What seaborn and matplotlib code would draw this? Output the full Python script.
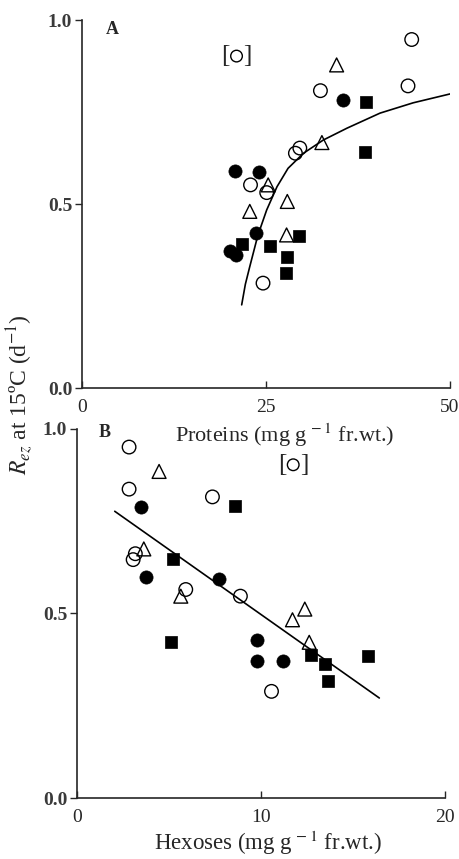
import numpy as np
import pandas as pd
import matplotlib
matplotlib.use("Agg")
import matplotlib.pyplot as plt
import seaborn as sns

sns.set_style("ticks")
plt.rcParams['font.family'] = ['Liberation Serif', 'DejaVu Serif']
plt.rcParams['mathtext.fontset'] = 'stix'

# ---- Panel A: proteins (mg g-1 fr.wt.) vs Rez ----
a_open_x = [44.8, 44.3, 32.4, 29.0, 29.6, 22.9, 25.1, 24.6]
a_open_y = [0.947, 0.821, 0.808, 0.638, 0.652, 0.552, 0.531, 0.285]
a_fcirc_x = [35.4, 20.8, 24.1, 23.7, 20.1, 20.9]
a_fcirc_y = [0.783, 0.590, 0.586, 0.421, 0.371, 0.362]
a_tri_x = [34.6, 32.6, 25.3, 27.9, 22.8, 27.8]
a_tri_y = [0.878, 0.667, 0.552, 0.507, 0.480, 0.416]
a_sq_x = [38.6, 38.5, 21.7, 25.6, 29.5, 27.8, 27.7]
a_sq_y = [0.778, 0.640, 0.391, 0.386, 0.412, 0.356, 0.312]
a_excl = (21.0, 0.902)  # bracketed point
a_curve_x = [21.7, 22.2, 22.8, 23.9, 25.1, 26.5, 28.0, 30.1, 32.8, 36.0, 40.5, 45.0, 50.4]
a_curve_y = [0.226, 0.282, 0.330, 0.415, 0.484, 0.547, 0.597, 0.638, 0.674, 0.706, 0.747, 0.775, 0.801]

# ---- Panel B: hexoses (mg g-1 fr.wt.) vs Rez ----
b_open_x = [2.83, 2.83, 7.36, 3.05, 3.17, 5.91, 8.88, 10.57]
b_open_y = [0.951, 0.837, 0.816, 0.646, 0.662, 0.565, 0.547, 0.289]
b_fcirc_x = [3.46, 3.77, 7.72, 9.79, 9.79, 11.21]
b_fcirc_y = [0.789, 0.599, 0.594, 0.427, 0.370, 0.370]
b_tri_x = [4.46, 3.63, 5.64, 12.38, 11.71, 12.62]
b_tri_y = [0.885, 0.675, 0.547, 0.512, 0.483, 0.422]
b_sq_x = [8.58, 5.19, 5.13, 12.69, 13.47, 13.65, 15.79]
b_sq_y = [0.790, 0.648, 0.422, 0.388, 0.363, 0.316, 0.386]
b_excl = (11.75, 0.903)
b_line_x = [2.05, 16.43]
b_line_y = [0.777, 0.271]

fig = plt.figure(figsize=(4.59, 8.59), dpi=100)
axA = fig.add_axes([0.1786, 0.5483, 0.8017, 0.4284])
axB = fig.add_axes([0.1678, 0.0710, 0.8017, 0.4296])


def draw_panel(ax, ox, oy, fx, fy, tx, ty, sx, sy, excl):
    sns.scatterplot(x=ox, y=oy, ax=ax, marker='o', s=95, facecolor='none',
                    edgecolor='black', linewidth=1.0, zorder=3)
    sns.scatterplot(x=fx, y=fy, ax=ax, marker='o', s=90, color='black',
                    edgecolor='black', linewidth=0.5, zorder=3)
    sns.scatterplot(x=tx, y=ty, ax=ax, marker='^', s=100, facecolor='none',
                    edgecolor='black', linewidth=1.0, zorder=3)
    sns.scatterplot(x=sx, y=sy, ax=ax, marker='s', s=80, color='black',
                    edgecolor='black', linewidth=0.5, zorder=3)
    sns.scatterplot(x=[excl[0]], y=[excl[1]], ax=ax, marker='o', s=70,
                    facecolor='none', edgecolor='black', linewidth=1.0, zorder=3)
    ax.annotate('[', (excl[0], excl[1]), xytext=(-8, 0), textcoords='offset points',
                ha='center', va='center', fontsize=18)
    ax.annotate(']', (excl[0], excl[1]), xytext=(8, 0), textcoords='offset points',
                ha='center', va='center', fontsize=18)
    ax.set_ylim(0, 1.0)
    ax.set_yticks([0.0, 0.5, 1.0])
    ax.set_yticklabels(['0.0', '0.5', '1.0'], color='#3a3a3a', fontsize=14,
                       fontweight='bold')
    ax.tick_params(axis='y', direction='out', length=5, width=1.0, pad=2)
    ax.tick_params(axis='x', direction='in', length=5, width=1.0, pad=8, labelsize=14)
    for sp in ['left', 'bottom']:
        ax.spines[sp].set_linewidth(1.2)
    sns.despine(ax=ax)
    ax.set_xlabel('')
    ax.set_ylabel('')
    ax.set_facecolor('none')


draw_panel(axA, a_open_x, a_open_y, a_fcirc_x, a_fcirc_y, a_tri_x, a_tri_y,
           a_sq_x, a_sq_y, a_excl)
sns.lineplot(x=a_curve_x, y=a_curve_y, ax=axA, color='black', linewidth=1.2,
             sort=False)
axA.set_xlim(0, 50)
axA.set_xticks([0, 25, 50])
axA.text(0.083, 0.975, 'A', transform=axA.transAxes, fontsize=13,
         fontweight='bold', ha='center', va='center')

draw_panel(axB, b_open_x, b_open_y, b_fcirc_x, b_fcirc_y, b_tri_x, b_tri_y,
           b_sq_x, b_sq_y, b_excl)
sns.lineplot(x=b_line_x, y=b_line_y, ax=axB, color='black', linewidth=1.2)
axB.set_xlim(0, 20)
axB.set_xticks([0, 10, 20])
axB.text(0.076, 0.99, 'B', transform=axB.transAxes, fontsize=13,
         fontweight='bold', ha='center', va='center')

fig.text(285 / 459, 1 - 435 / 859, r'Proteins (mg g$^{\,-1}$ fr.wt.)',
         ha='center', va='center', fontsize=16)
fig.text(268 / 459, 1 - 843 / 859, r'Hexoses (mg g$^{\,-1}$ fr.wt.)',
         ha='center', va='center', fontsize=16.5)
fig.text(20 / 459, 1 - 395 / 859, r'$R_{ez}$ at 15ºC (d$^{-1}$)',
         ha='center', va='center', rotation=90, fontsize=17)

fig.savefig('out.png', dpi=100)
